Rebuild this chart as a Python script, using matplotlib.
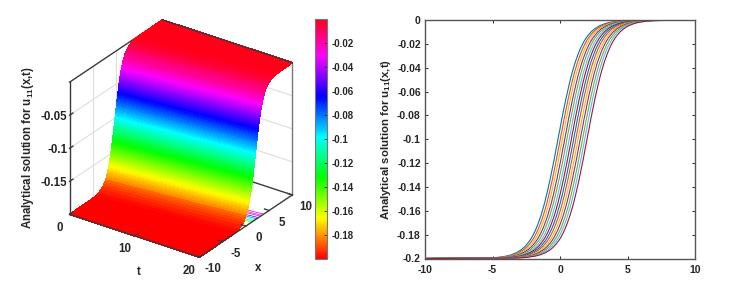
import numpy as np
import matplotlib
matplotlib.use("Agg")
import matplotlib.pyplot as plt
from matplotlib.cm import ScalarMappable
from matplotlib.colors import Normalize

plt.rcParams['font.family'] = ['Liberation Sans', 'DejaVu Sans']
plt.rcParams['font.weight'] = 'bold'
plt.rcParams['axes.unicode_minus'] = False
plt.rcParams['mathtext.fontset'] = 'custom'
plt.rcParams['mathtext.rm'] = 'Liberation Sans:bold'
plt.rcParams['mathtext.bf'] = 'Liberation Sans:bold'
plt.rcParams['mathtext.it'] = 'Liberation Sans:bold'

# wave profile: height and distance from the wave centre
profile_u = [-0.2, -0.1995, -0.199, -0.198, -0.197, -0.195, -0.1925, -0.19, -0.1875, -0.185,
             -0.1825, -0.18, -0.1775, -0.175, -0.1725, -0.17, -0.1675, -0.165, -0.1625, -0.16,
             -0.1575, -0.155, -0.1525, -0.15, -0.1475, -0.145, -0.1425, -0.14, -0.1375, -0.135,
             -0.1325, -0.13, -0.1275, -0.125, -0.1225, -0.12, -0.1175, -0.115, -0.1125, -0.11,
             -0.1075, -0.105, -0.1025, -0.1,
             -0.0975, -0.095, -0.0925, -0.09, -0.0875, -0.085, -0.0825, -0.08, -0.0775, -0.075,
             -0.0725, -0.07, -0.0675, -0.065, -0.0625, -0.06, -0.0575, -0.055, -0.0525, -0.05,
             -0.0475, -0.045, -0.0425, -0.04, -0.0375, -0.035, -0.0325, -0.03, -0.0275, -0.025,
             -0.0225, -0.02, -0.0175, -0.015, -0.0125, -0.01, -0.0075, -0.005, -0.003, -0.002,
             -0.001, -0.0005, 0.0]
profile_dx = [-20.0, -4.99, -4.41, -3.83, -3.49, -3.05, -2.70, -2.45, -2.26, -2.09,
              -1.95, -1.83, -1.72, -1.62, -1.53, -1.45, -1.37, -1.29, -1.22, -1.16,
              -1.09, -1.03, -0.97, -0.92, -0.86, -0.81, -0.76, -0.71, -0.66, -0.61,
              -0.56, -0.52, -0.47, -0.43, -0.38, -0.34, -0.29, -0.25, -0.21, -0.17,
              -0.13, -0.08, -0.04, 0.0,
              0.04, 0.08, 0.13, 0.17, 0.21, 0.25, 0.29, 0.34, 0.38, 0.43,
              0.47, 0.52, 0.56, 0.61, 0.66, 0.71, 0.76, 0.81, 0.86, 0.92,
              0.97, 1.03, 1.09, 1.16, 1.22, 1.29, 1.37, 1.45, 1.53, 1.62,
              1.72, 1.83, 1.95, 2.09, 2.26, 2.45, 2.70, 3.05, 3.49, 3.83,
              4.41, 4.99, 20.0]

# one wave centre per plotted time step
t_values = [0, 1.5, 3.1, 4.6, 6.2, 7.7, 9.2, 10.8, 12.3, 13.8, 15.4, 16.9, 18.5, 20]
wave_center = [-0.15, 0.02, 0.18, 0.35, 0.51, 0.68, 0.84, 1.01, 1.17, 1.34, 1.5, 1.67, 1.83, 2.0]

line_colors = ['#0072BD', '#D95319', '#EDB120', '#7E2F8E', '#77AC30', '#4DBEEE', '#A2142F']

floor_levels = [-0.02, -0.03, -0.04, -0.06, -0.08, -0.1, -0.12, -0.14]
floor_rows = [11, 12, 13]

z_ticks = [-0.15, -0.1, -0.05]
z_ticklabels = ['-0.15', '-0.1', '-0.05']
t_ticks = [0, 10, 20]
x_ticks = [-10, -5, 0, 5, 10]
cbar_ticks = [-0.18, -0.16, -0.14, -0.12, -0.1, -0.08, -0.06, -0.04, -0.02]
cbar_ticklabels = ['-0.18', '-0.16', '-0.14', '-0.12', '-0.1', '-0.08', '-0.06', '-0.04', '-0.02']
y_ticks = [-0.2, -0.18, -0.16, -0.14, -0.12, -0.1, -0.08, -0.06, -0.04, -0.02, 0]
y_ticklabels = ['-0.2', '-0.18', '-0.16', '-0.14', '-0.12', '-0.1', '-0.08', '-0.06', '-0.04', '-0.02', '0']

ylabel = r'Analytical solution for u$_{\mathbf{11}}$(x,t)'
text_color = '#262626'
frame_color = '#3a3a3a'
grid_color = '#dedede'

u = np.array(profile_u)
dx = np.array(profile_dx)
curves_x = np.array([np.clip(dx + c, -10, 10) for c in wave_center])
T = np.tile(np.array(t_values, dtype=float)[:, None], (1, len(u)))
U = np.tile(u, (len(t_values), 1))

W, H = 730, 293
fig = plt.figure(figsize=(W / 100, H / 100), dpi=100)

# left panel, surface; box drawn by hand so the z axis can sit on the left corner
norm = Normalize(-0.2, 0)
ax = fig.add_axes([-5.5 / W, 4 / H, 0.5, 1.0], projection='3d', computed_zorder=False)
ax.set_proj_type('ortho')
ax.view_init(elev=28, azim=-55)
ax.set_box_aspect((158.7, 162, 150), zoom=0.9)
ax.set_xlim(0, 20)
ax.set_ylim(-10, 10)
ax.set_zlim(-0.2, 0)
ax.set_axis_off()
ax.patch.set_alpha(0)

t0, t1 = 0, 20
x0, x1 = -10, 10
z0, z1 = -0.2, 0


def edge(p, q, color=frame_color, lw=1.0, zorder=1):
    ax.plot([p[0], q[0]], [p[1], q[1]], [p[2], q[2]], color=color, lw=lw, zorder=zorder)


# wall grid
for z in z_ticks:
    edge((t0, x0, z), (t0, x1, z), grid_color, 0.8, 0)
    edge((t0, x1, z), (t1, x1, z), grid_color, 0.8, 0)
for x in x_ticks[1:-1]:
    edge((t0, x, z0), (t0, x, z1), grid_color, 0.8, 0)
for t in t_ticks[1:-1]:
    edge((t, x1, z0), (t, x1, z1), grid_color, 0.8, 0)

# back of the box
edge((t0, x0, z0), (t0, x0, z1))
edge((t0, x0, z1), (t0, x1, z1))
edge((t0, x1, z1), (t1, x1, z1), zorder=3)
edge((t1, x1, z1), (t1, x1, z0), color='#777777')
edge((t1, x1, z0), (t0, x1, z0))

# floor contours just outside the surface foot
for lev in floor_levels:
    j = int(np.argmin(np.abs(u - lev)))
    ax.plot([t_values[r] for r in floor_rows], [curves_x[r, j] for r in floor_rows], zs=z0, zdir='z',
            color=plt.cm.hsv(norm(lev)), lw=0.5, zorder=1)

# each facet takes the colour of its height band
U_mid = np.tile(np.append((u[:-1] + u[1:]) / 2, u[-1]), (len(t_values), 1))
ax.plot_surface(T, curves_x, U, rstride=1, cstride=1, facecolors=plt.cm.hsv(norm(U_mid)), shade=False,
                linewidth=0.5, antialiased=False, zorder=2)

# front edges and ticks
edge((t0, x0, z0), (t1, x0, z0), zorder=3)
edge((t1, x0, z0), (t1, x1, z0), zorder=3)
for z, lab in zip(z_ticks, z_ticklabels):
    edge((t0, x0, z), (t0, x0 + 0.7, z), zorder=3)
    ax.text(t0, x0 - 0.5, z, lab, ha='right', va='center', fontsize=8.3, color=text_color, zorder=4)
for t in t_ticks:
    edge((t, x0, z0), (t, x0 + 0.7, z0), zorder=3)
    ax.text(t, x0 - 2.2, z0 - 0.01, str(t), ha='center', va='center', fontsize=8.3, color=text_color, zorder=4)
for x in x_ticks:
    edge((t1, x, z0), (t1 - 0.7, x, z0), zorder=3)
    ax.text(t1 + 2, x, z0 - 0.012, str(x), ha='center', va='center', fontsize=8.3, color=text_color, zorder=4)

fig.text(28.5 / W, 1 - 148 / H, ylabel, rotation=90, ha='center', va='center', fontsize=8.3, color=text_color)
fig.text(139 / W, 1 - 272 / H, 't', ha='center', va='center', fontsize=8.3, color=text_color)
fig.text(258 / W, 1 - 268 / H, 'x', ha='center', va='center', fontsize=8.3, color=text_color)

# colorbar
cax = fig.add_axes([315 / W, 1 - 259 / H, 12 / W, 240 / H])
cb = fig.colorbar(ScalarMappable(norm=norm, cmap='hsv'), cax=cax)
cb.set_ticks(cbar_ticks)
cb.set_ticklabels(cbar_ticklabels)
cb.ax.tick_params(labelsize=7, colors=text_color, direction='in', length=2, width=0.6, pad=3)
cb.outline.set_edgecolor('#777777')
cb.outline.set_linewidth(0.8)

# right panel, profiles
ax2 = fig.add_axes([425 / W, 1 - 258.5 / H, 270 / W, 238.5 / H])
for i in range(len(t_values)):
    ax2.plot(curves_x[i], u, color=line_colors[i % 7], lw=0.8)
ax2.set_xlim(-10, 10)
ax2.set_ylim(-0.2, 0)
ax2.set_xticks(x_ticks)
ax2.set_yticks(y_ticks)
ax2.set_yticklabels(y_ticklabels)
ax2.tick_params(labelsize=7.5, colors=text_color, direction='in', length=2.5, width=0.7,
                top=True, right=True, pad=3)
ax2.tick_params(axis='x', pad=4.5)
for s in ax2.spines.values():
    s.set_color('#555555')
    s.set_linewidth(1.0)
ax2.set_ylabel(ylabel, fontsize=8.2, fontweight='bold', color=text_color)
ax2.yaxis.set_label_coords(-0.118, 0.5)

fig.savefig('out.png', dpi=100)
